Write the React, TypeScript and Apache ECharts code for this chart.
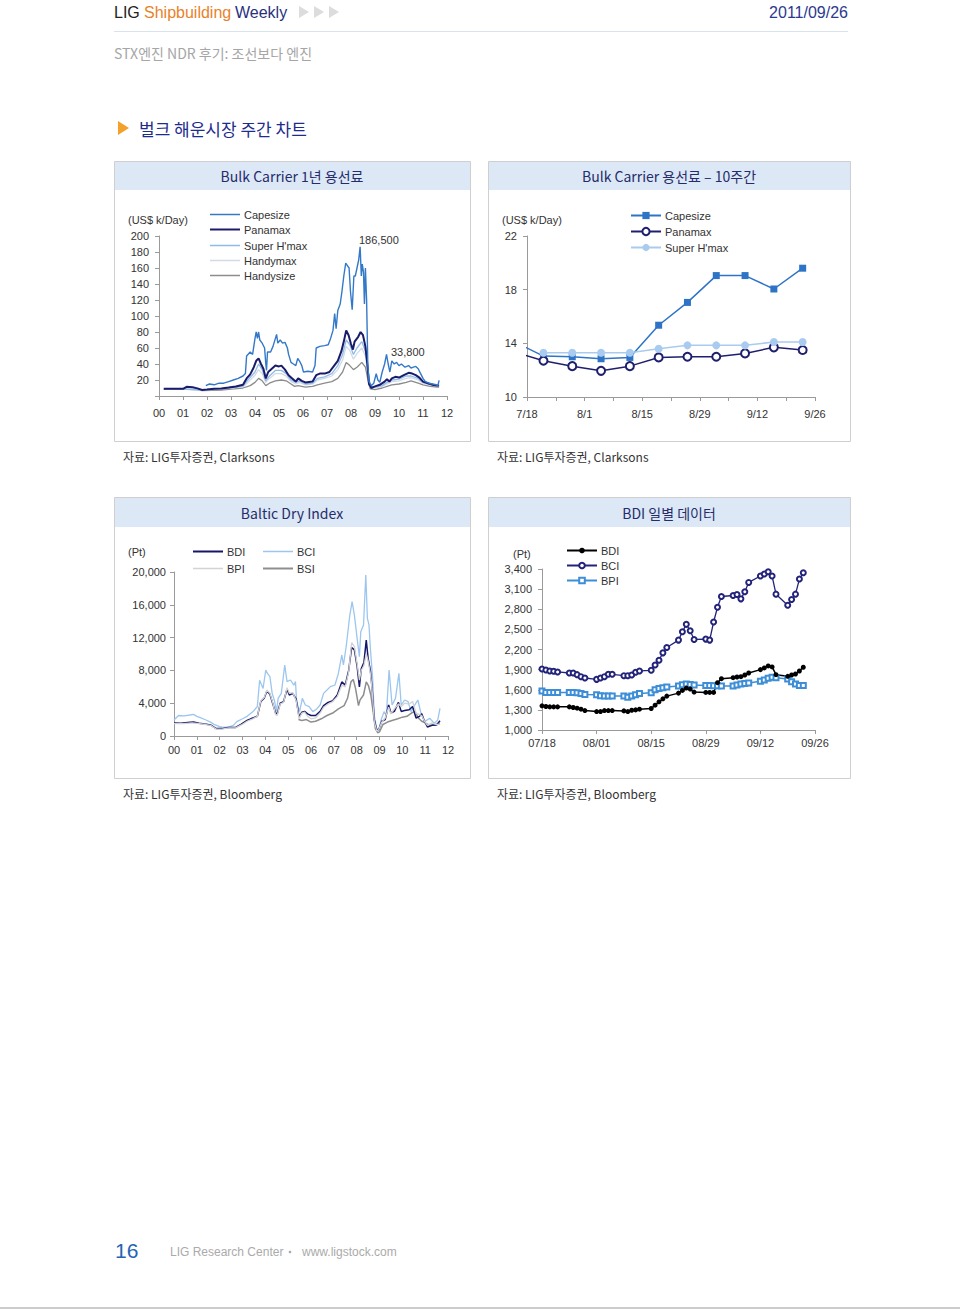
import React, { useEffect, useRef } from 'react';
import * as echarts from 'echarts';

// ---------------- Chart 1: Bulk Carrier 1-yr T/C (US$ k/Day), x = years since 2000 ----------------
const yearLabels = ['00','01','02','03','04','05','06','07','08','09','10','11','12'];

const capesize1: [number, number][] = [
  [1.95,13],[2.1,15],[2.3,14],[2.5,16],[2.7,16],[2.9,18],[3.1,20],[3.3,22],[3.5,25],[3.6,28],[3.65,50],[3.8,55],[3.9,52],
  [4.0,72],[4.05,80],[4.1,72],[4.15,80],[4.2,70],[4.3,66],[4.4,60],[4.45,40],[4.48,32],[4.52,55],[4.65,55],[4.75,62],
  [4.85,72],[4.9,77],[4.95,66],[5.05,70],[5.15,66],[5.25,67],[5.35,60],[5.4,52],[5.5,42],[5.6,40],[5.7,38],[5.78,47],
  [5.85,44],[5.95,38],[6.02,30],[6.2,31],[6.4,30],[6.5,38],[6.55,60],[6.7,62],[6.9,63],[7.05,64],[7.15,72],[7.25,82],
  [7.32,103],[7.38,84],[7.45,107],[7.55,115],[7.62,130],[7.7,150],[7.78,166],[7.85,163],[7.92,160],[7.98,130],[8.05,108],
  [8.12,150],[8.18,150],[8.25,160],[8.32,170],[8.38,186.5],[8.43,150],[8.47,165],[8.52,155],[8.56,115],[8.6,160],[8.65,120],
  [8.7,40],[8.75,18],[8.85,13],[8.95,16],[9.05,28],[9.12,20],[9.2,17],[9.3,30],[9.4,40],[9.48,52],[9.55,40],[9.62,30],
  [9.7,44],[9.8,40],[9.9,42],[10.0,38],[10.1,40],[10.25,36],[10.4,38],[10.5,35],[10.6,36],[10.7,37],[10.8,34],[10.9,28],
  [11.0,22],[11.1,18],[11.25,16],[11.4,15],[11.55,14],[11.62,13],[11.67,19.6]
];
const panamax1: [number, number][] = [
  [0.2,9],[0.6,9],[1.0,9],[1.15,11.5],[1.4,11],[1.6,9.5],[1.8,7.5],[2.0,8],[2.3,9],[2.6,9.5],[2.9,10.5],[3.2,12],[3.5,14],
  [3.65,22],[3.8,27],[3.95,36],[4.05,44],[4.15,47],[4.25,40],[4.35,34],[4.45,22],[4.55,30],[4.7,34],[4.85,38],[5.0,37],
  [5.1,38],[5.25,33],[5.4,26],[5.55,22],[5.7,18],[5.8,22],[5.95,19],[6.1,17],[6.4,18],[6.55,26],[6.7,28],[6.9,28],[7.1,30],
  [7.3,38],[7.45,44],[7.6,56],[7.7,68],[7.8,82],[7.9,76],[8.0,65],[8.08,58],[8.15,68],[8.3,74],[8.4,80],[8.5,76],[8.6,62],
  [8.68,40],[8.75,15],[8.85,10],[9.0,12],[9.2,14],[9.4,18],[9.5,21],[9.6,18],[9.7,22],[9.85,24],[10.0,23],[10.2,26],
  [10.4,29],[10.55,28],[10.7,26],[10.85,23],[11.0,18],[11.2,16],[11.4,14],[11.55,13],[11.67,13]
];
const superHmax1: [number, number][] = [
  [0.2,8.5],[1.0,8.5],[1.8,7.5],[2.3,8.5],[2.9,10],[3.5,12.5],[3.7,20],[4.0,30],[4.15,40],[4.3,33],[4.45,19],[4.6,25],
  [4.85,32],[5.1,32],[5.3,28],[5.5,20],[5.7,17],[5.85,19],[6.1,15],[6.4,16],[6.6,22],[6.9,24],[7.2,28],[7.45,38],[7.65,52],
  [7.8,70],[7.95,64],[8.1,52],[8.25,60],[8.45,68],[8.6,56],[8.72,30],[8.8,12],[9.0,11],[9.3,13],[9.5,17],[9.7,20],[10.0,21],
  [10.3,25],[10.5,25],[10.8,22],[11.0,17],[11.3,15],[11.6,13],[11.67,13]
];
const handymax1: [number, number][] = [
  [0.2,8.5],[1.0,8.5],[1.8,7.2],[2.3,8.2],[2.9,9.5],[3.5,11.5],[3.7,17],[4.0,26],[4.15,33],[4.3,28],[4.45,17],[4.6,22],
  [4.85,28],[5.1,28],[5.3,25],[5.5,18],[5.7,15],[5.85,17],[6.1,14],[6.4,15],[6.6,20],[6.9,22],[7.2,25],[7.45,33],[7.65,45],
  [7.8,62],[7.95,57],[8.1,46],[8.25,53],[8.45,60],[8.6,50],[8.72,26],[8.8,11],[9.0,10],[9.3,12],[9.5,15],[9.7,18],[10.0,19],
  [10.3,22],[10.5,23],[10.8,20],[11.0,16],[11.3,14],[11.6,12.5],[11.67,12.5]
];
const handysize1: [number, number][] = [
  [0.2,8.5],[1.0,8.5],[1.6,8],[1.8,6.8],[2.2,7],[2.6,7.5],[3.0,8.5],[3.5,10],[3.8,13],[4.0,17],[4.15,22],[4.3,19],[4.45,13],
  [4.6,16],[4.85,19],[5.1,20],[5.3,19],[5.5,15],[5.65,12],[5.8,13],[6.1,11],[6.4,12],[6.6,14],[6.9,16],[7.2,18],[7.45,22],
  [7.65,30],[7.8,42],[7.95,38],[8.1,33],[8.25,36],[8.45,42],[8.6,36],[8.72,18],[8.8,9],[9.0,8],[9.3,10],[9.5,12],[9.7,14],
  [10.0,15],[10.3,17],[10.5,19],[10.8,16],[11.0,14],[11.3,12],[11.6,11],[11.67,11]
];

// ---------------- Chart 2: 10-week weekly T/C ----------------
const weekDates = ['7/15','7/22','7/29','8/5','8/12','8/19','8/26','9/2','9/9','9/16','9/23'];
const capesizeWeekly = [14.1, 13.05, 13.0, 12.85, 12.95, 15.35, 17.05, 19.05, 19.05, 18.05, 19.6];
const panamaxWeekly = [13.35, 12.7, 12.3, 11.95, 12.3, 12.95, 13.0, 13.0, 13.25, 13.7, 13.5];
const superHmaxWeekly = [null, 13.3, 13.3, 13.3, 13.3, 13.6, 13.85, 13.85, 13.85, 14.1, 14.1];
const weekTickLabels = ['7/18','8/1','8/15','8/29','9/12','9/26'];

// ---------------- Chart 3: Baltic Dry Index (Pt), x = years since 2000 ----------------
const bci3: [number, number][] = [
  [0.0,1950],[0.2,2500],[0.45,2450],[0.7,2560],[0.85,2640],[1.0,2400],[1.15,2240],[1.4,1950],[1.6,1700],[1.75,1420],[2.0,1150],
  [2.2,1050],[2.45,1140],[2.6,1300],[2.75,1750],[3.0,2100],[3.2,2400],[3.45,2950],[3.65,3600],[3.75,6800],[3.9,5800],[4.02,8050],
  [4.1,7600],[4.2,7240],[4.3,5200],[4.4,4300],[4.49,2970],[4.56,4590],[4.7,5200],[4.85,8660],[4.95,6630],[5.1,6830],[5.25,6200],
  [5.32,6630],[5.37,4190],[5.5,2970],[5.62,4590],[5.75,3780],[5.92,3580],[6.08,2970],[6.25,3300],[6.4,3780],[6.55,5200],[6.7,5600],
  [6.85,6020],[7.05,6220],[7.2,7640],[7.35,9880],[7.42,8660],[7.55,11100],[7.7,14750],[7.8,16380],[7.9,14750],[8.02,11910],
  [8.12,9670],[8.18,12720],[8.3,13540],[8.4,19630],[8.47,14350],[8.54,13540],[8.6,10690],[8.7,7030],[8.77,2560],[8.87,935],
  [8.97,730],[9.07,1950],[9.2,2970],[9.3,2560],[9.42,8050],[9.55,3780],[9.7,4590],[9.85,7640],[9.95,3780],[10.1,4390],[10.25,4190],
  [10.38,2970],[10.5,3580],[10.68,4390],[10.8,2970],[10.97,1750],[11.2,2160],[11.4,1540],[11.55,1950],[11.65,3370]
];
const bdi3: [number, number][] = [
  [0.0,1600],[0.3,1550],[0.6,1650],[0.85,1700],[1.1,1550],[1.35,1450],[1.6,1350],[1.85,900],[2.1,900],[2.4,1050],[2.7,1050],
  [2.95,1450],[3.2,1900],[3.45,2200],[3.65,2400],[3.8,4200],[3.95,4600],[4.07,5500],[4.2,5100],[4.32,4000],[4.45,2800],[4.52,2700],
  [4.65,4000],[4.8,4200],[4.95,5700],[5.05,5000],[5.2,5200],[5.35,4500],[5.48,2300],[5.6,2900],[5.72,3000],[5.85,2700],[6.0,2500],
  [6.2,2500],[6.4,3000],[6.55,3700],[6.75,4100],[6.95,4300],[7.15,5000],[7.35,6600],[7.5,6200],[7.65,8000],[7.78,10800],[7.9,10500],
  [8.02,8500],[8.12,6000],[8.2,8200],[8.32,9000],[8.42,11700],[8.5,9500],[8.6,8000],[8.67,6000],[8.77,2000],[8.88,700],[8.97,800],
  [9.1,1800],[9.25,2000],[9.4,3800],[9.5,2800],[9.65,3000],[9.83,4100],[9.95,3000],[10.1,3100],[10.3,3200],[10.45,3600],[10.6,2200],
  [10.75,2400],[10.85,2700],[10.97,1800],[11.1,1100],[11.3,1300],[11.5,1350],[11.65,1850]
];
const bpi3: [number, number][] = [
  [0.0,1500],[0.4,1500],[0.8,1600],[1.1,1500],[1.4,1400],[1.6,1300],[1.85,850],[2.1,850],[2.4,1000],[2.7,1000],[2.95,1350],
  [3.2,1800],[3.45,2100],[3.65,2400],[3.8,4300],[3.95,4700],[4.07,5600],[4.2,5200],[4.32,4100],[4.45,2600],[4.52,2500],[4.65,3900],
  [4.8,4100],[4.95,5900],[5.05,5200],[5.2,5300],[5.35,4300],[5.48,2100],[5.6,2800],[5.72,2900],[5.85,2400],[6.0,2100],[6.2,2200],
  [6.4,2800],[6.55,3500],[6.75,3900],[6.95,4200],[7.15,4800],[7.35,6200],[7.5,6000],[7.65,7800],[7.78,11400],[7.9,10900],[8.02,8800],
  [8.12,6800],[8.2,8000],[8.32,8600],[8.42,10000],[8.5,9200],[8.6,7600],[8.67,5800],[8.77,1800],[8.88,600],[8.97,800],[9.1,1700],
  [9.25,2200],[9.4,3500],[9.5,2700],[9.65,3300],[9.83,3900],[9.95,3600],[10.1,4000],[10.3,3900],[10.45,4200],[10.6,2800],[10.75,2600],
  [10.85,2500],[10.97,1800],[11.1,1300],[11.3,1600],[11.5,1400],[11.65,1450]
];
const bsi3: [number, number][] = [
  [5.45,2000],[5.6,1900],[5.8,2000],[6.0,1700],[6.2,1800],[6.45,2100],[6.7,2500],[6.95,2800],[7.2,3300],[7.45,3700],[7.6,4600],
  [7.75,6600],[7.85,6900],[7.95,5800],[8.08,3700],[8.15,4400],[8.3,5000],[8.42,6600],[8.52,6100],[8.62,5000],[8.72,3000],[8.82,900],
  [8.92,400],[9.0,500],[9.15,1400],[9.35,1700],[9.55,1900],[9.8,2100],[10.0,2300],[10.2,2400],[10.4,2800],[10.55,3000],[10.7,2200],
  [10.85,1800],[11.0,1600],[11.2,1300],[11.45,1400],[11.65,1500]
];

// ---------------- Chart 4: BDI daily ----------------
const dailyDates = [
  '07/18','07/19','07/20','07/21','07/22','07/25','07/26','07/27','07/28','07/29',
  '08/01','08/02','08/03','08/04','08/05','08/08','08/09','08/10','08/11','08/12',
  '08/15','08/16','08/17','08/18','08/19','08/22','08/23','08/24','08/25','08/26',
  '08/29','08/30','08/31','09/01','09/02','09/05','09/06','09/07','09/08','09/09',
  '09/12','09/13','09/14','09/15','09/16','09/19','09/20','09/21','09/22','09/23'
];
const bdiDaily = [
  1360,1350,1345,1345,1345,1345,1335,1325,1310,1290,
  1275,1275,1290,1290,1290,1285,1275,1295,1300,1310,
  1320,1370,1420,1465,1505,1550,1590,1625,1610,1565,
  1560,1560,1560,1705,1765,1780,1790,1795,1820,1850,
  1900,1925,1955,1940,1825,1800,1820,1835,1880,1935
];
const bciDaily = [
  1910,1895,1880,1875,1865,1850,1850,1825,1795,1775,
  1755,1775,1795,1830,1830,1810,1810,1820,1860,1880,
  1890,1970,2040,2150,2230,2340,2465,2575,2480,2350,
  2355,2340,2610,2830,2990,3005,3020,2955,3060,3200,
  3295,3325,3360,3295,3025,2860,2945,3025,3250,3345
];
const bpiDaily = [
  1580,1560,1560,1560,1560,1560,1560,1555,1545,1530,
  1525,1510,1505,1505,1505,1505,1490,1505,1525,1545,
  1555,1600,1620,1630,1640,1655,1675,1685,1680,1670,
  1665,1665,1660,1660,1655,1655,1670,1685,1695,1700,
  1725,1745,1770,1785,1780,1760,1720,1685,1665,1665
];
const dailyTickLabels = ['07/18','08/01','08/15','08/29','09/12','09/26'];

// ---------------- helpers ----------------
const FONT = "'Liberation Sans', Arial, sans-serif";
const KFONT = "'Noto Sans CJK KR', sans-serif";
const AX = '#9a9a9a';
const TXT = '#333333';

const dayOf = (md: string) => {
  const [m, d] = md.split('/').map(Number);
  return (Date.UTC(2011, m - 1, d) - Date.UTC(2011, 6, 18)) / 86400000;
};
const comma = (v: number) => v.toLocaleString('en-US');

function axisBase(extra: any) {
  return {
    axisLine: { show: true, lineStyle: { color: AX, width: 1 } },
    axisTick: { show: true, length: 4, lineStyle: { color: AX } },
    splitLine: { show: false },
    ...extra,
    axisLabel: { color: TXT, fontSize: 11, fontFamily: FONT, ...(extra.axisLabel || {}) },
  };
}

function legendItem(name: string, left: number, cy: number, opt: any = {}) {
  return {
    data: [name], left, top: cy - 7, padding: 0, selectedMode: false, itemWidth: 30,
    itemHeight: opt.itemHeight ?? 2, icon: opt.icon,
    textStyle: { fontSize: 11, color: TXT, fontFamily: FONT, padding: [0, 0, 0, -1] },
    ...opt.extra,
  };
}

function txt(text: string, x: number, y: number, o: any = {}) {
  return {
    type: 'text', x, y, silent: true,
    style: {
      text, fill: o.fill ?? TXT, fontSize: o.size ?? 11, fontFamily: o.font ?? FONT,
      align: o.align ?? 'left', verticalAlign: 'middle', fontWeight: o.weight ?? 'normal',
    },
  };
}

function boxGraphics(x: number, y: number, w: number, h: number, band: number, title: string) {
  return [
    { type: 'rect', shape: { x: x + 0.5, y: y + 0.5, width: w, height: h }, style: { fill: '#fff', stroke: '#cfcfcf', lineWidth: 1 }, z: -10, silent: true },
    { type: 'rect', shape: { x: x + 1, y: y + 1, width: w - 1, height: band }, style: { fill: '#DCE8F6' }, z: -9, silent: true },
    txt(title, x + w / 2, y + 1 + band / 2, { size: 14, font: KFONT, fill: '#262C6A', align: 'center' }),
  ];
}

const C1 = { cape: '#3479C8', pana: '#1B1B6B', shm: '#8FBBE8', hmax: '#D2DBE5', hsize: '#8C8C8C' };
const C3 = { bdi: '#15156A', bci: '#9CC6EE', bpi: '#D3D3D3', bsi: '#8E8E8E' };

function buildOption() {
  const graphics: any[] = [
    // header
    txt('LIG', 114, 12, { size: 16, fill: '#222' }),
    txt('Shipbuilding', 144, 12, { size: 16, fill: '#E8822A' }),
    txt('Weekly', 235, 12, { size: 16, fill: '#2A2F7E' }),
    ...[0, 1, 2].map((i) => ({
      type: 'polygon', silent: true,
      shape: { points: [[299 + i * 15, 6], [309 + i * 15, 12], [299 + i * 15, 18]] },
      style: { fill: '#DCDCDC' },
    })),
    txt('2011/09/26', 848, 12, { size: 16, fill: '#2B3990', align: 'right' }),
    { type: 'rect', shape: { x: 114, y: 31, width: 734, height: 1 }, style: { fill: '#D8E3EE' }, silent: true },
    txt('STX엔진 NDR 후기: 조선보다 엔진', 114, 53, { size: 14, fill: '#A6A6A6', font: KFONT }),
    {
      type: 'polygon', silent: true,
      shape: { points: [[118, 121], [129, 128], [118, 135]] }, style: { fill: '#F3A12A' },
    },
    txt('벌크 해운시장 주간 차트', 139, 128, { size: 17, fill: '#1E2C8C', font: KFONT }),
    // boxes
    ...boxGraphics(114, 161, 356, 280, 28, 'Bulk Carrier 1년 용선료'),
    ...boxGraphics(488, 161, 362, 280, 28, 'Bulk Carrier 용선료 – 10주간'),
    ...boxGraphics(114, 497, 356, 281, 29, 'Baltic Dry Index'),
    ...boxGraphics(488, 497, 362, 281, 29, 'BDI 일별 데이터'),
    // sources
    txt('자료: LIG투자증권, Clarksons', 123, 456, { size: 12, font: KFONT }),
    txt('자료: LIG투자증권, Clarksons', 497, 456, { size: 12, font: KFONT }),
    txt('자료: LIG투자증권, Bloomberg', 123, 793, { size: 12, font: KFONT }),
    txt('자료: LIG투자증권, Bloomberg', 497, 793, { size: 12, font: KFONT }),
    // unit labels
    txt('(US$ k/Day)', 128, 220),
    txt('(US$ k/Day)', 502, 220),
    txt('(Pt)', 128, 552),
    txt('(Pt)', 513, 554),
    // annotations
    txt('186,500', 359, 240),
    txt('33,800', 391, 352),
    // footer
    txt('16', 115, 1250, { size: 21, fill: '#2463B5' }),
    txt('LIG Research Center', 170, 1252, { size: 12, fill: '#AAAAAA' }),
    { type: 'circle', shape: { cx: 290, cy: 1252, r: 1.3 }, style: { fill: '#AAAAAA' }, silent: true },
    txt('www.ligstock.com', 302, 1252, { size: 12, fill: '#AAAAAA' }),
    { type: 'rect', shape: { x: 0, y: 1307, width: 960, height: 2 }, style: { fill: '#CCCCCC' }, silent: true },
  ];

  const line = (name: string, data: any, xi: number, color: string, width = 1.3, extra: any = {}) => ({
    type: 'line', name, data, xAxisIndex: xi, yAxisIndex: xi,
    symbol: 'none', showSymbol: false, clip: true,
    lineStyle: { color, width }, itemStyle: { color },
    emphasis: { disabled: true },
    ...extra,
  });

  const weekX = weekDates.map(dayOf);
  const dayX = dailyDates.map(dayOf);

  return {
    animation: false,
    backgroundColor: '#ffffff',
    grid: [
      { left: 159, top: 236, width: 288, height: 160 },
      { left: 527, top: 236, width: 288, height: 161 },
      { left: 174, top: 572, width: 274, height: 164 },
      { left: 542, top: 569, width: 273, height: 161 },
    ],
    xAxis: [
      axisBase({ gridIndex: 0, type: 'value', min: 0, max: 12, interval: 1,
        axisLabel: { margin: 11, formatter: (v: number) => yearLabels[v] ?? '' } }),
      axisBase({ gridIndex: 1, type: 'value', min: 0, max: 70, interval: 14,
        minorTick: { show: true, splitNumber: 2, length: 4, lineStyle: { color: AX } },
        axisLabel: { margin: 11, formatter: (v: number) => weekTickLabels[Math.round(v / 14)] ?? '' } }),
      axisBase({ gridIndex: 2, type: 'value', min: 0, max: 12, interval: 1,
        axisLabel: { margin: 8, formatter: (v: number) => yearLabels[v] ?? '' } }),
      axisBase({ gridIndex: 3, type: 'value', min: 0, max: 70, interval: 14,
        axisLabel: { margin: 7, formatter: (v: number) => dailyTickLabels[Math.round(v / 14)] ?? '' } }),
    ],
    yAxis: [
      axisBase({ gridIndex: 0, type: 'value', min: 0, max: 200, interval: 20,
        axisLabel: { margin: 10, formatter: (v: number) => (v === 0 ? '' : String(v)) } }),
      axisBase({ gridIndex: 1, type: 'value', min: 10, max: 22, interval: 4,
        axisLabel: { margin: 10 } }),
      axisBase({ gridIndex: 2, type: 'value', min: 0, max: 20000, interval: 4000,
        axisLabel: { margin: 8, formatter: (v: number) => comma(v) } }),
      axisBase({ gridIndex: 3, type: 'value', min: 1000, max: 3400, interval: 300,
        axisLabel: { margin: 10, formatter: (v: number) => comma(v) } }),
    ],
    legend: [
      legendItem('Capesize', 210, 216, { icon: 'rect', itemHeight: 1.5 }),
      legendItem('Panamax', 210, 231, { icon: 'rect', itemHeight: 2 }),
      legendItem("Super H'max", 210, 247, { icon: 'rect', itemHeight: 1.5 }),
      legendItem('Handymax', 210, 262, { icon: 'rect', itemHeight: 1.5 }),
      legendItem('Handysize', 210, 277, { icon: 'rect', itemHeight: 1.5 }),
      legendItem('Capesize ', 630, 217, { itemHeight: 9 }),
      legendItem('Panamax ', 630, 233, { itemHeight: 9 }),
      legendItem("Super H'max ", 630, 249, { itemHeight: 9 }),
      legendItem('BDI', 193, 553, { icon: 'rect', itemHeight: 2 }),
      legendItem('BCI', 263, 553, { icon: 'rect', itemHeight: 1.5 }),
      legendItem('BPI', 193, 570, { icon: 'rect', itemHeight: 1.5 }),
      legendItem('BSI', 263, 570, { icon: 'rect', itemHeight: 2 }),
      legendItem('BDI ', 566, 552, { itemHeight: 7 }),
      legendItem('BCI ', 566, 567, { itemHeight: 7 }),
      legendItem('BPI ', 566, 582, { itemHeight: 7 }),
    ],
    graphic: { elements: graphics },
    series: [
      // chart 1
      line('Handysize', handysize1, 0, C1.hsize, 1.3),
      line('Handymax', handymax1, 0, C1.hmax, 1.3),
      line("Super H'max", superHmax1, 0, C1.shm, 1.3),
      line('Panamax', panamax1, 0, C1.pana, 2),
      line('Capesize', capesize1, 0, C1.cape, 1.4),
      // chart 2
      line('Capesize ', weekX.map((x, i) => [x, capesizeWeekly[i]]), 1, '#2E74C6', 1.5,
        { symbol: 'rect', showSymbol: true, symbolSize: 7 }),
      line('Panamax ', weekX.map((x, i) => [x, panamaxWeekly[i]]), 1, '#1F1F6E', 1.5,
        { symbol: 'emptyCircle', showSymbol: true, symbolSize: 8, itemStyle: { color: '#1F1F6E', borderWidth: 1.5 } }),
      line("Super H'max ", weekX.map((x, i) => [x, superHmaxWeekly[i]]), 1, '#A9CBEF', 1.5,
        { symbol: 'circle', showSymbol: true, symbolSize: 8 }),
      // chart 3
      line('BCI', bci3, 2, C3.bci, 1.3),
      line('BSI', bsi3, 2, C3.bsi, 1.5),
      line('BDI', bdi3, 2, C3.bdi, 1.5),
      line('BPI', bpi3, 2, C3.bpi, 1.3),
      // chart 4
      line('BPI ', dayX.map((x, i) => [x, bpiDaily[i]]), 3, '#3D8ED6', 1.5,
        { symbol: 'emptyRect', showSymbol: true, symbolSize: 5 }),
      line('BCI ', dayX.map((x, i) => [x, bciDaily[i]]), 3, '#23237A', 1.3,
        { symbol: 'emptyCircle', showSymbol: true, symbolSize: 5 }),
      line('BDI ', dayX.map((x, i) => [x, bdiDaily[i]]), 3, '#000000', 1.5,
        { symbol: 'circle', showSymbol: true, symbolSize: 5 }),
    ],
  };
}

export default function App() {
  const ref = useRef<HTMLDivElement>(null);
  useEffect(() => {
    if (!ref.current) return;
    const chart = echarts.init(ref.current, null, { renderer: 'svg' });
    chart.setOption(buildOption() as any);
    return () => chart.dispose();
  }, []);
  return (
    <div
      ref={ref}
      style={{ position: 'absolute', left: 0, top: 0, width: 960, height: 1309, background: '#ffffff' }}
    />
  );
}
